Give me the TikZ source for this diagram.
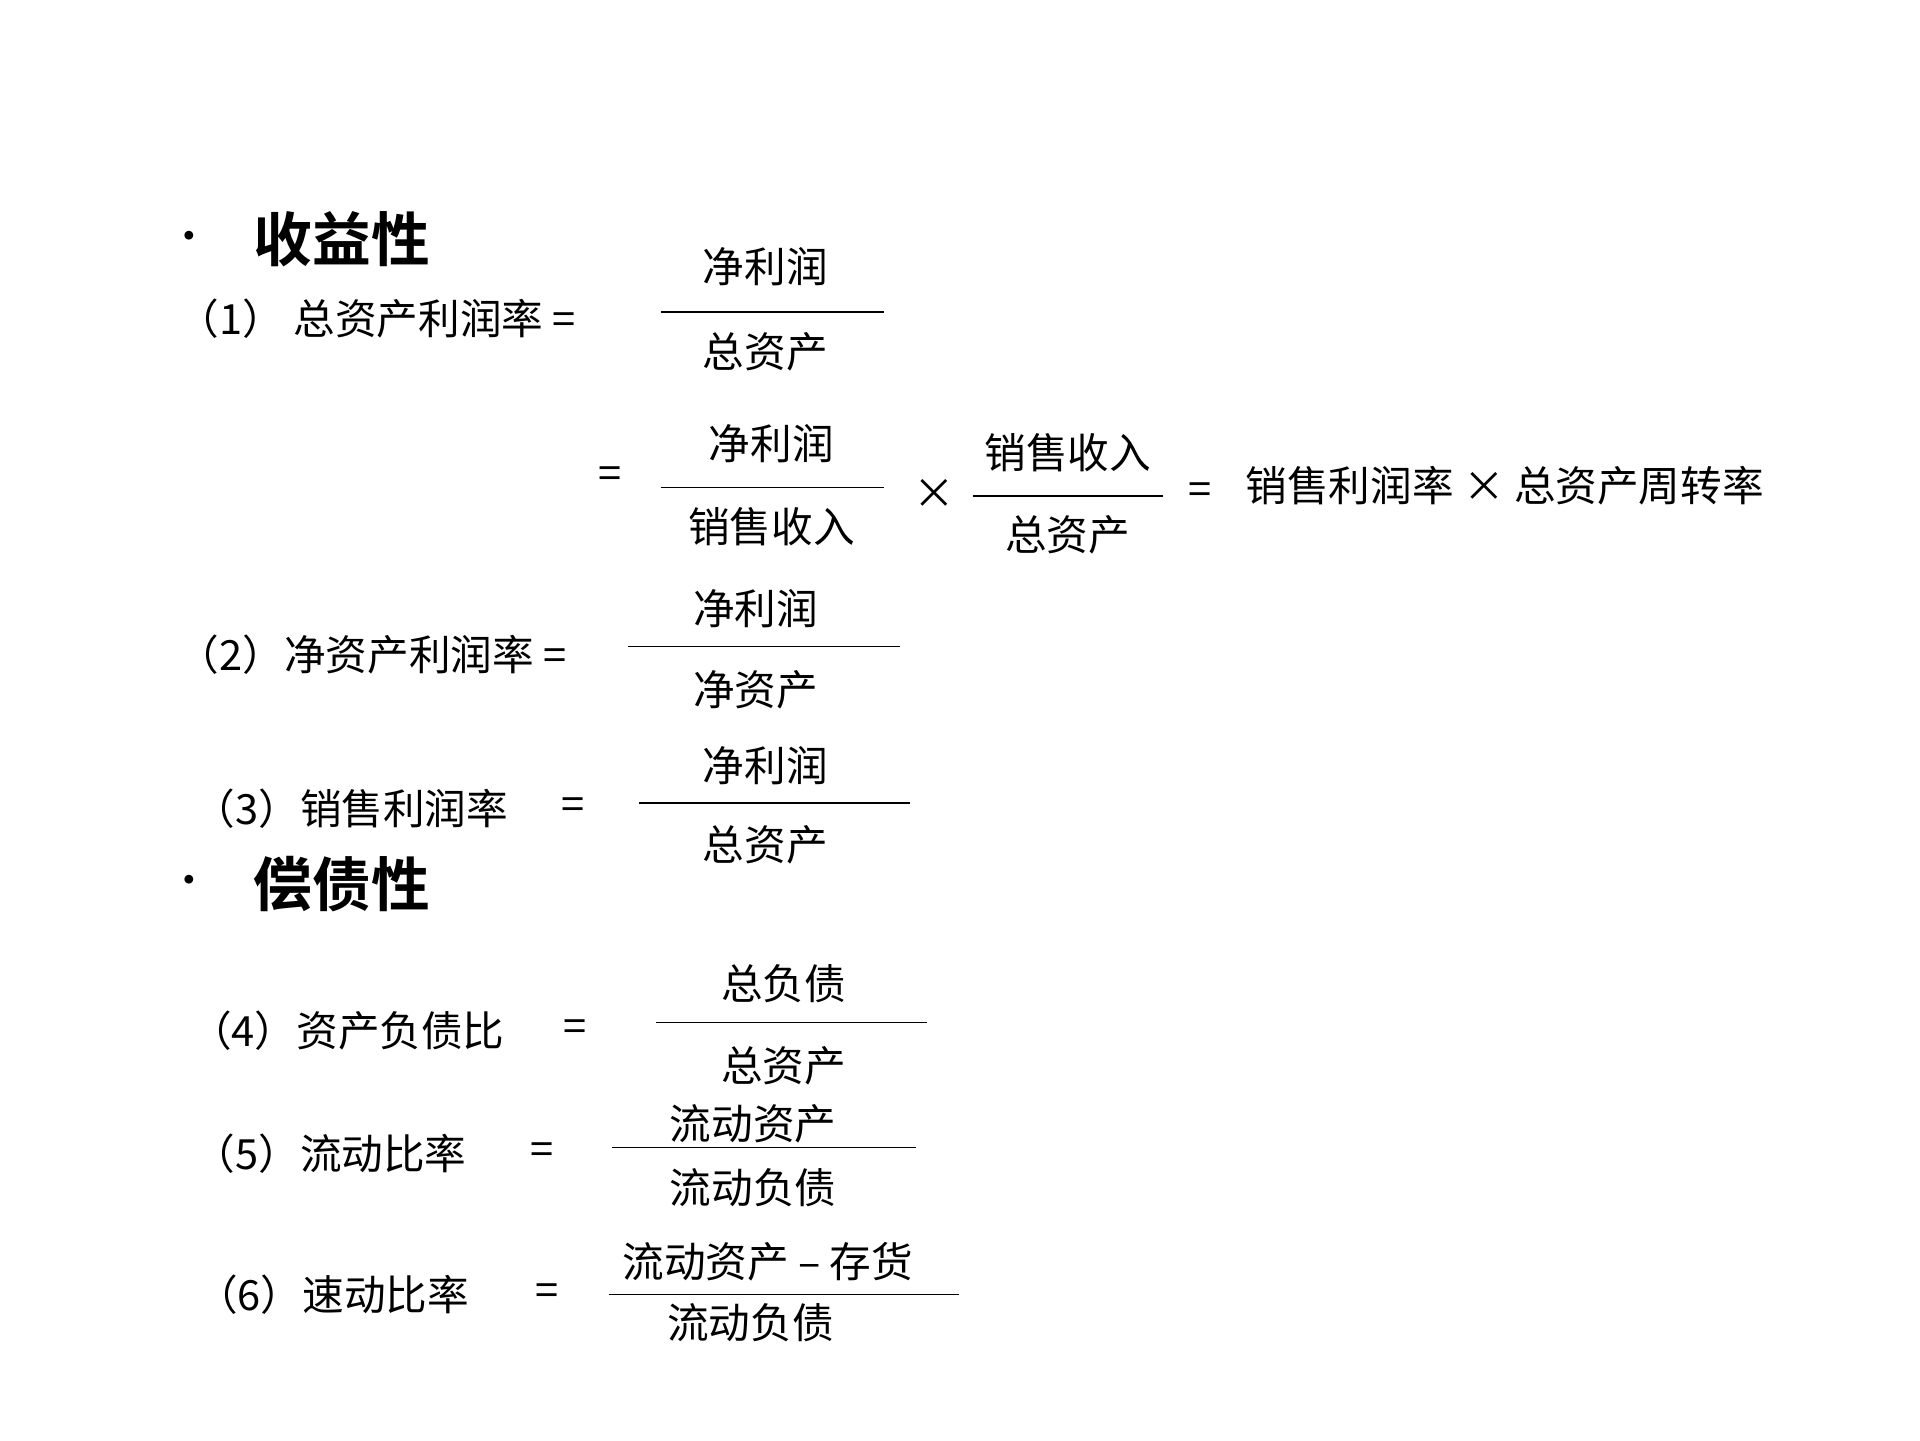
\documentclass[tikz,border=0pt]{standalone}
\usepackage{fontspec}
\setmainfont{Liberation Serif}
\newfontfamily\cjk{Noto Sans CJK SC}
\newfontfamily\cjkb{Noto Sans CJK SC Bold}
\begin{document}
\begin{tikzpicture}[x=1pt,y=-1pt,
  t/.style={inner sep=0pt,font=\fontsize{34}{36}\selectfont\cjk},
  h/.style={inner sep=0pt,anchor=west,font=\fontsize{48}{50}\selectfont\cjkb},
  fl/.style={line width=1.3pt}]
\useasboundingbox (0,0) rectangle (1568,1176);
% headings
\node[t,anchor=center] (b1) at (155,197) {\textbullet};
\node[h] (h1) at (207,195) {收益性};
\node[t,anchor=center] (b2) at (155,723) {\textbullet};
\node[h] (h2) at (207,722) {偿债性};
% (1)
\node[t,anchor=west] (l1) at (145,260) {（1） 总资产利润率 =};
\node[t] (n1) at (625,218) {净利润};
\draw[fl] (540,255) -- (722,255);
\node[t] (d1) at (625,287) {总资产};
% line 2
\node[t] (e2) at (498,390) {=};
\node[t] (n2) at (630,362) {净利润};
\draw[fl] (540,398) -- (722,398);
\node[t] (d2) at (630,430) {销售收入};
\node[t] (x2) at (763,403) {×};
\node[t] (n3) at (872,370) {销售收入};
\draw[fl] (795,405) -- (950,405);
\node[t] (d3) at (872,437) {总资产};
\node[t] (e3) at (980,403) {=};
\node[t,anchor=west] (r2) at (1017,397) {销售利润率 × 总资产周转率};
% (2)
\node[t,anchor=west] (l2) at (145,535) {（2）净资产利润率 =};
\node[t] (n4) at (617,497) {净利润};
\draw[fl] (513,528) -- (735,528);
\node[t] (d4) at (617,563) {净资产};
% (3)
\node[t,anchor=west] (l3) at (158,660) {（3）销售利润率};
\node[t] (e5) at (468,660) {=};
\node[t] (n5) at (625,625) {净利润};
\draw[fl] (522,656) -- (743,656);
\node[t] (d5) at (625,690) {总资产};
% (4)
\node[t,anchor=west] (l4) at (155,842) {（4）资产负债比};
\node[t] (e6) at (470,842) {=};
\node[t] (n6) at (640,803) {总负债};
\draw[fl] (536,835) -- (757,835);
\node[t] (d6) at (640,870) {总资产};
% (5)
\node[t,anchor=west] (l5) at (158,942) {（5）流动比率};
\node[t] (e7) at (443,942) {=};
\node[t] (n7) at (615,918) {流动资产};
\draw[fl] (500,937) -- (748,937);
\node[t] (d7) at (615,970) {流动负债};
% (6)
\node[t,anchor=west] (l6) at (160,1057) {（6）速动比率};
\node[t] (e8) at (447,1057) {=};
\node[t] (n8) at (627,1030) {流动资产 – 存货};
\draw[fl] (497,1057) -- (783,1057);
\node[t] (d8) at (613,1080) {流动负债};
\end{tikzpicture}
\end{document}
